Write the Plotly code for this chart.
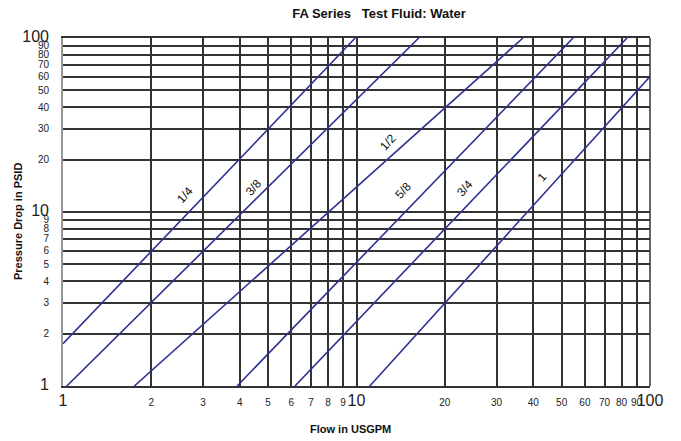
import math
import plotly.graph_objects as go

# Data (log-log)
sizes = ["1/4", "3/8", "1/2", "5/8", "3/4", "1"]
flow_start = [1.0, 1.03, 1.75, 3.92, 6.17, 11.1]
dp_start = [1.75, 1.0, 1.0, 1.0, 1.0, 1.0]
flow_end = [9.9, 16.3, 36.9, 54.7, 83.5, 100.0]
dp_end = [100.0, 100.0, 100.0, 100.0, 100.0, 60.0]

# label positions (data coords)
label_flow = [2.60, 4.44, 12.8, 14.5, 23.4, 42.9]
label_dp = [12.6, 13.8, 25.4, 13.3, 13.8, 15.8]

tick_vals = [1, 2, 3, 4, 5, 6, 7, 8, 9, 10, 20, 30, 40, 50, 60, 70, 80, 90, 100]
major = {1, 10, 100}
tick_text = [f"<span style='font-size:16px'>{v}</span>" if v in major else str(v) for v in tick_vals]

FONT = "Arial, Liberation Sans, sans-serif"
LINE_COLOR = "#2E3192"

# page body has an 8px default margin; compensate so the plot lands where the reference has it
OFF = 8
W, H = 681 - OFF, 441 - OFF
L, R, T, B = 63 - OFF, 31, 38 - OFF, 55
PW, PH = W - L - R, H - T - B

fig = go.Figure()
for i, s in enumerate(sizes):
    fig.add_trace(go.Scatter(
        x=[flow_start[i], flow_end[i]],
        y=[dp_start[i], dp_end[i]],
        mode="lines",
        line=dict(color=LINE_COLOR, width=1.6),
        name=s,
        showlegend=False,
        hoverinfo="skip",
    ))

for i, s in enumerate(sizes):
    fig.add_annotation(
        x=math.log10(label_flow[i]), y=math.log10(label_dp[i]),
        xref="x", yref="y", text=s, showarrow=False,
        textangle=-48, font=dict(family=FONT, size=12, color="#111"),
    )

# axis titles (screen positions from the reference)
fig.add_annotation(x=(350 - 63) / PW, y=-(429 - 386) / PH, xref="paper", yref="paper",
                   text="<b>Flow in USGPM</b>", showarrow=False, xanchor="center", yanchor="middle",
                   font=dict(family=FONT, size=11, color="#111"))
fig.add_annotation(x=(18 - 63) / PW, y=(386 - 222) / PH, xref="paper", yref="paper",
                   text="<b>Pressure Drop in PSID</b>", showarrow=False, xanchor="center", yanchor="middle",
                   textangle=-90, font=dict(family=FONT, size=11, color="#111"))

fig.update_layout(
    width=W, height=H,
    margin=dict(l=L, r=R, t=T, b=B, autoexpand=False),
    paper_bgcolor="white", plot_bgcolor="white",
    font=dict(family=FONT, color="#222"),
    title=dict(text="<b>FA Series   Test Fluid: Water</b>", x=(379 - OFF) / W, xanchor="center",
               y=1 - 0.5 / H, yanchor="top", font=dict(size=13, color="#111")),
)

fig.update_xaxes(
    type="log", range=[0, 2], automargin=False,
    tickmode="array", tickvals=tick_vals, ticktext=tick_text, tickangle=0,
    tickfont=dict(size=10, color="#222"),
    showgrid=True, gridcolor="#333", gridwidth=1.5,
    showline=True, linecolor="#333", linewidth=1.5, mirror=True,
    ticks="", ticklabelstandoff=6,
    zeroline=False,
)
fig.update_yaxes(
    type="log", range=[0, 2], automargin=False,
    tickmode="array", tickvals=tick_vals, ticktext=tick_text,
    tickfont=dict(size=10, color="#222"),
    showgrid=True, gridcolor="#333", gridwidth=1.5,
    showline=True, linecolor="#999", linewidth=2,
    ticks="", ticklabelstandoff=10,
    zeroline=False,
)

# right border
fig.add_shape(type="line", xref="paper", yref="paper", x0=1, x1=1, y0=0, y1=1,
              line=dict(color="#333", width=1.5))

fig.write_html("out.html")
